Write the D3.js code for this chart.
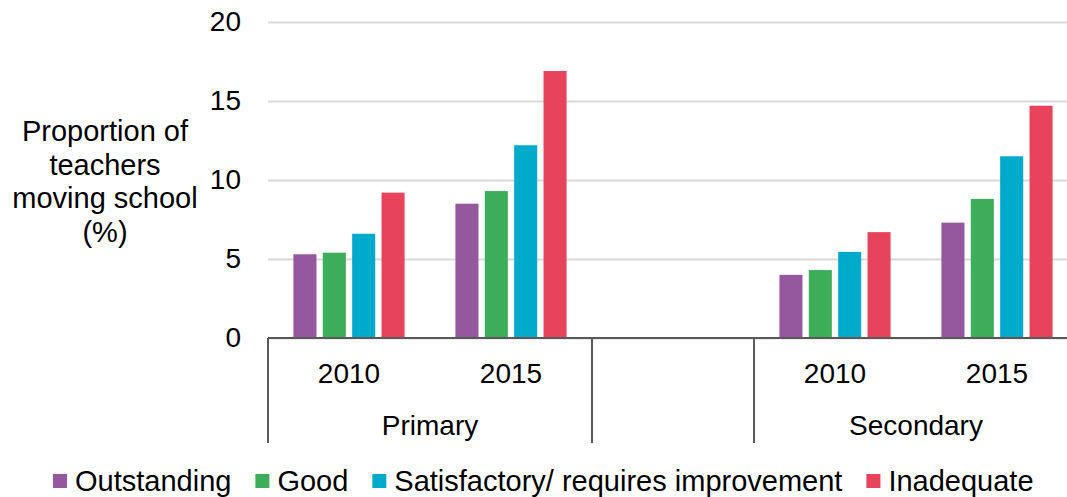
<!DOCTYPE html>
<html>
<head>
<meta charset="utf-8">
<script src="https://cdn.jsdelivr.net/npm/d3@7"></script>
<style>
  html, body { margin: 0; padding: 0; background: #fff; }
  svg { display: block; }
  text { font-family: "Liberation Sans", Arial, sans-serif; fill: #000; }
</style>
</head>
<body>
<div id="chart"></div>
<script>
// ---- data ----
const groups = ["Primary", "Secondary"];
const years = ["2010", "2015"];
const seriesNames = ["Outstanding", "Good", "Satisfactory/ requires improvement", "Inadequate"];
const seriesColors = ["#95579E", "#3DAD5A", "#00AACA", "#E8435C"];
// values ordered: Primary 2010, Primary 2015, Secondary 2010, Secondary 2015
const outstanding = [5.3, 8.5, 4.0, 7.3];
const good = [5.4, 9.3, 4.3, 8.8];
const satisfactory = [6.6, 12.2, 5.45, 11.5];
const inadequate = [9.2, 16.9, 6.7, 14.7];
const yTicks = [0, 5, 10, 15, 20];
const yTitle = ["Proportion of", "teachers", "moving school", "(%)"];

const seriesValues = [outstanding, good, satisfactory, inadequate];

const W = 1067, H = 497;
const svg = d3.select("#chart").append("svg").attr("width", W).attr("height", H);

// slots: Primary 2010, Primary 2015, gap, Secondary 2010, Secondary 2015
const slots = ["Primary|2010", "Primary|2015", "gap", "Secondary|2010", "Secondary|2015"];
const dataSlots = ["Primary|2010", "Primary|2015", "Secondary|2010", "Secondary|2015"];

const x0 = d3.scaleBand().domain(slots).range([268, 1078]).padding(0);
const x1 = d3.scaleBand().domain(seriesNames).range([0, x0.bandwidth()])
  .paddingInner(0.215).paddingOuter(0.865);
const y = d3.scaleLinear().domain([0, 20]).range([338, 22]);

// gridlines
const grid = svg.append("g").attr("transform", "translate(268,0)")
  .call(d3.axisLeft(y).tickValues(yTicks).tickSize(-(W - 268)).tickFormat(""));
grid.select(".domain").remove();
grid.selectAll(".tick line").attr("stroke", "#d9d9d9").attr("stroke-width", 2);

// y labels
const yAxis = svg.append("g").attr("transform", "translate(268,0)")
  .call(d3.axisLeft(y).tickValues(yTicks).tickSize(0).tickPadding(27));
yAxis.select(".domain").remove();
yAxis.selectAll("text").style("font-size", "28px").attr("fill", "#000")
  .style("font-family", "'Liberation Sans', Arial, sans-serif");

// y title
const yt = svg.append("text").attr("text-anchor", "middle").style("font-size", "29px");
yTitle.forEach((t, i) => {
  yt.append("tspan").attr("x", 105).attr("y", 141 + i * 33.7).text(t);
});

// bars
const barData = [];
dataSlots.forEach((slot, si) => {
  seriesNames.forEach((s, k) => {
    barData.push({ slot, series: s, value: seriesValues[k][si], color: seriesColors[k] });
  });
});
svg.append("g").selectAll("rect").data(barData).join("rect")
  .attr("x", d => x0(d.slot) + x1(d.series))
  .attr("width", x1.bandwidth())
  .attr("y", d => y(d.value))
  .attr("height", d => y(0) - y(d.value))
  .attr("fill", d => d.color);

// x axis line
svg.append("line")
  .attr("x1", x0.range()[0]).attr("x2", W)
  .attr("y1", y(0)).attr("y2", y(0))
  .attr("stroke", "#595959").attr("stroke-width", 2);

// group dividers
const boundaries = [x0("Primary|2010"), x0("gap"), x0("Secondary|2010"), x0("Secondary|2015") + x0.bandwidth()];
svg.append("g").selectAll("line").data(boundaries).join("line")
  .attr("x1", d => d).attr("x2", d => d)
  .attr("y1", y(0)).attr("y2", 443)
  .attr("stroke", "#595959").attr("stroke-width", 2);

// year labels
svg.append("g").selectAll("text").data(dataSlots).join("text")
  .attr("x", d => x0(d) + x0.bandwidth() / 2)
  .attr("y", 383)
  .attr("text-anchor", "middle")
  .style("font-size", "28px")
  .text(d => d.split("|")[1]);

// group labels
svg.append("g").selectAll("text").data(groups).join("text")
  .attr("x", g => (x0(g + "|2010") + x0(g + "|2015") + x0.bandwidth()) / 2)
  .attr("y", 435)
  .attr("text-anchor", "middle")
  .style("font-size", "28px")
  .text(g => g);

// legend
const legend = svg.append("g");
let lx = 53;
seriesNames.forEach((s, k) => {
  legend.append("rect").attr("x", lx).attr("y", 474).attr("width", 14).attr("height", 14)
    .attr("fill", seriesColors[k]);
  const t = legend.append("text").attr("x", lx + 22).attr("y", 491)
    .style("font-size", "29px").text(s);
  const w = t.node().getComputedTextLength();
  lx = lx + 22 + w + 24;
});
</script>
</body>
</html>
